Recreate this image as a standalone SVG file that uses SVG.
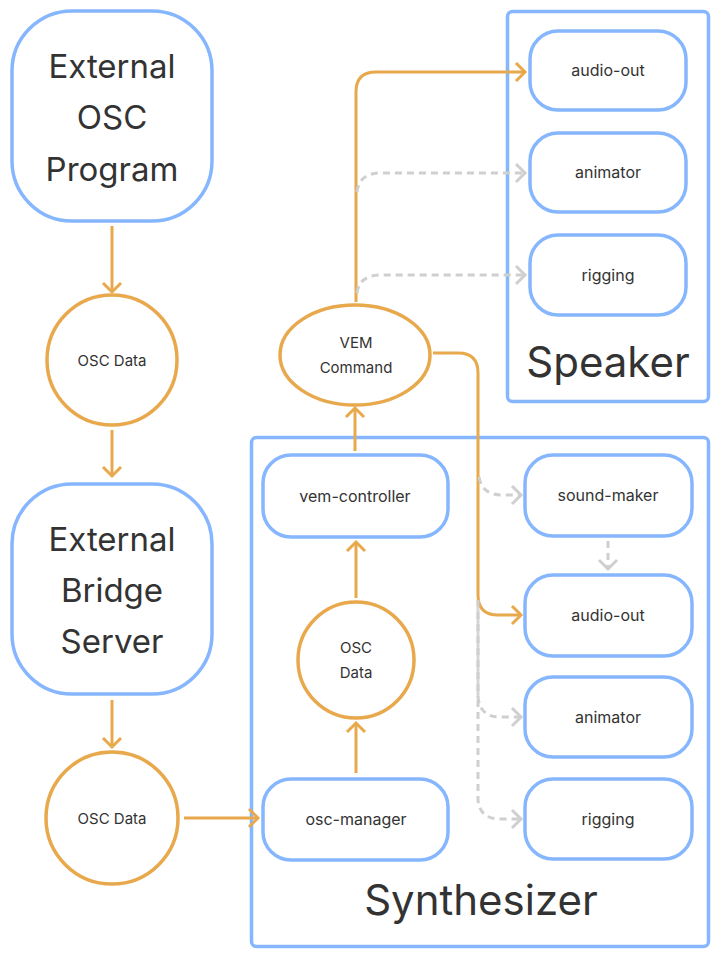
<svg xmlns="http://www.w3.org/2000/svg" width="719" height="957" viewBox="0 0 719 957">
<style>
.node{fill:#fff;stroke:#86B6FE;stroke-width:3.5}
.circ{fill:#fff;stroke:#E8A84C;stroke-width:3.5}
.grp{fill:none;stroke:#86B6FE;stroke-width:3.5}
text{font-family:Inter,"Noto Sans","Liberation Sans",sans-serif;fill:#333;text-anchor:middle}
.big{font-size:33px}
.sm{font-size:16px}
.xs{font-size:15px}
.lbl{font-size:42px}
.o{fill:none;stroke:#E8A84C;stroke-width:3;marker-end:url(#ao)}
.g{fill:none;stroke:#CFCFCF;stroke-width:3;stroke-dasharray:7 5;marker-end:url(#ag)}
.gs{fill:none;stroke:#D6D6D6;stroke-width:3}
</style>
<defs>
<marker id="ao" markerUnits="userSpaceOnUse" markerWidth="20" markerHeight="24" refX="9" refY="10" orient="auto" overflow="visible"><path d="M1,1 L10,10 L1,19" fill="none" stroke="#E8A84C" stroke-width="3"/></marker>
<marker id="ag" markerUnits="userSpaceOnUse" markerWidth="20" markerHeight="24" refX="9" refY="10" orient="auto" overflow="visible"><path d="M1,1 L10,10 L1,19" fill="none" stroke="#CFCFCF" stroke-width="3"/></marker>
</defs>
<g id="speaker"><rect class="grp" x="507.5" y="11.5" width="201" height="390" rx="5"/><text class="lbl" x="608" y="377">Speaker</text></g>
<g id="synthesizer"><rect class="grp" x="251.5" y="437.5" width="457" height="509" rx="5"/><text class="lbl" x="481" y="915">Synthesizer</text></g>
<g id="ext-osc"><rect class="node" x="12" y="11" width="200" height="210" rx="60"/><text class="big" x="112" y="78">External</text><text class="big" x="112" y="129">OSC</text><text class="big" x="112" y="181">Program</text></g>
<g id="osc-data-1"><circle class="circ" cx="112" cy="360" r="65"/><text class="xs" x="112" y="366">OSC Data</text></g>
<g id="ext-bridge"><rect class="node" x="12" y="484" width="200" height="210" rx="60"/><text class="big" x="112" y="551">External</text><text class="big" x="112" y="602">Bridge</text><text class="big" x="112" y="653">Server</text></g>
<g id="osc-data-2"><circle class="circ" cx="112" cy="818" r="66"/><text class="xs" x="112" y="824">OSC Data</text></g>
<g id="vem-command"><ellipse class="circ" cx="355" cy="355" rx="75" ry="50"/><text class="xs" x="356" y="348">VEM</text><text class="xs" x="356" y="373">Command</text></g>
<g id="vem-controller"><rect class="node" x="263" y="455" width="185" height="82" rx="28"/><text class="sm" x="355" y="502">vem-controller</text></g>
<g id="osc-data-3"><circle class="circ" cx="356" cy="660" r="58"/><text class="xs" x="356" y="653">OSC</text><text class="xs" x="356" y="678">Data</text></g>
<g id="osc-manager"><rect class="node" x="263" y="779" width="185" height="81" rx="28"/><text class="sm" x="356" y="825">osc-manager</text></g>
<g id="sp-audio-out"><rect class="node" x="530" y="31" width="156" height="79" rx="28"/><text class="sm" x="608" y="76">audio-out</text></g>
<g id="sp-animator"><rect class="node" x="530" y="133" width="156" height="79" rx="28"/><text class="sm" x="608" y="178">animator</text></g>
<g id="sp-rigging"><rect class="node" x="530" y="235" width="156" height="80" rx="28"/><text class="sm" x="608" y="281">rigging</text></g>
<g id="sound-maker"><rect class="node" x="525" y="455" width="167" height="81" rx="28"/><text class="sm" x="608" y="501">sound-maker</text></g>
<g id="sy-audio-out"><rect class="node" x="525" y="575" width="167" height="81" rx="28"/><text class="sm" x="608" y="621">audio-out</text></g>
<g id="sy-animator"><rect class="node" x="525" y="677" width="167" height="80" rx="28"/><text class="sm" x="608" y="723">animator</text></g>
<g id="sy-rigging"><rect class="node" x="525" y="779" width="167" height="80" rx="28"/><text class="sm" x="608" y="825">rigging</text></g>
<g id="connectors">
<path class="gs" d="M478,600 L478,697"/>
<path class="o" d="M112,226 L112,291"/>
<path class="o" d="M112,430 L112,475"/>
<path class="o" d="M112,700 L112,746"/>
<path class="o" d="M184,818 L257,818"/>
<path class="o" d="M356,773 L356,724"/>
<path class="o" d="M356,598 L356,543"/>
<path class="o" d="M355,451 L355,409"/>
<path class="o" d="M356,302 L356,92 Q356,72 376,72 L524,72"/>
<path class="g" d="M357,192 Q359,174 379,173 L524,173"/>
<path class="g" d="M357,293 Q359,276 379,275 L524,275"/>
<path class="o" d="M433,353 L458,353 Q478,353 478,373 L478,595 Q478,615 498,615 L520,615"/>
<path class="g" d="M479,477 Q482,495 502,495 L520,495"/>
<path class="g" d="M608,541 L608,568"/>
<path class="g" d="M478,600 L478,697 Q480,717 500,717 L520,717"/>
<path class="g" d="M478,700 L478,800 Q480,819 500,819 L520,819"/>
</g>
</svg>
